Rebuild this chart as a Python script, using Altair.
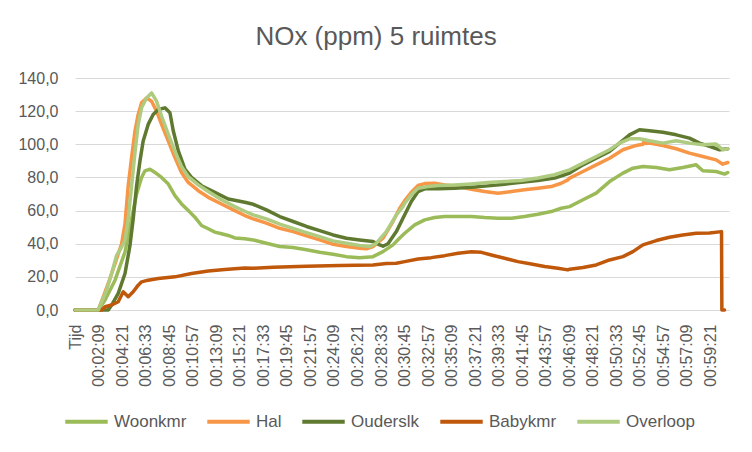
import altair as alt
import pandas as pd

SERIES = ["Woonkmr", "Hal", "Ouderslk", "Babykmr", "Overloop"]
COLORS = ["#9BBB59", "#F79646", "#5F7A30", "#C0580C", "#AECB80"]

# time in seconds since start, values in ppm
WOONKMR_T = [-3, 127, 165, 221, 277, 314, 342, 370, 389, 417, 445, 482, 520, 557, 594, 632, 669, 706, 744, 781, 818, 856, 893, 949,
             996, 1070, 1145, 1220, 1295, 1369, 1444, 1519, 1593, 1668, 1724, 1780, 1818,
             1846, 1902, 1958, 2014, 2070, 2145, 2220, 2294, 2369, 2444, 2518, 2593, 2668, 2724,
             2771, 2846, 2920, 2995, 3070, 3126, 3182, 3257, 3331, 3406, 3481, 3518, 3593, 3640, 3658]
WOONKMR_V = [0, 0, 6, 18, 35, 55, 70, 80, 84, 85, 83, 80, 76, 69, 64, 60, 56, 51, 49, 47, 46, 45, 43.5, 43,
             42.3, 40.3, 38.3, 37.7, 36.3, 34.8, 33.6, 32.2, 31.6, 32.2, 35.2, 39.3, 43.5,
             46.3, 51.4, 54.4, 55.8, 56.4, 56.4, 56.4, 55.8, 55.4, 55.4, 56.4, 57.8, 59.4, 61.4,
             62.4, 66.5, 70.5, 77.5, 82.6, 85.6, 86.6, 86, 84.6, 86, 87.6, 84, 83.6, 82, 83]

HAL_T = [-3, 127, 155, 183, 221, 258, 277, 295, 314, 333, 351, 370, 398, 426, 454, 482, 520, 557, 594, 632, 688, 744, 818, 893, 949,
         996, 1070, 1145, 1220, 1295, 1369, 1444, 1519, 1593, 1631, 1668, 1724, 1780, 1818,
         1846, 1883, 1921, 1958, 2014, 2070, 2145, 2220, 2294, 2369, 2444, 2518, 2593, 2668, 2724, 2761,
         2771, 2846, 2920, 2995, 3070, 3145, 3182, 3191, 3200, 3219, 3294, 3369, 3443, 3518, 3593, 3630, 3658]
HAL_V = [0, 0, 8, 16, 28, 40, 52, 75, 92, 108, 118, 125, 128, 126, 120, 112, 102, 92, 83, 77, 72, 68, 64, 60, 57,
         55, 52.4, 49.3, 47.3, 44.7, 42.3, 39.7, 38.3, 37.3, 36.9, 38.3, 43.3, 53.4, 61.4,
         66, 71, 75.1, 76.3, 76.5, 75.5, 74.5, 72.9, 71.5, 70.5, 71.5, 72.5, 73.5, 74.5, 76.5, 78.5,
         79.6, 83.6, 87.6, 91.6, 96.7, 99.3, 100, 102.7, 100.5, 100.7, 99.3, 97.3, 94.7, 92.6, 90.6, 88, 89]

OUDERSLK_T = [-3, 183, 202, 239, 277, 305, 323, 342, 361, 379, 407, 435, 464, 501, 529, 548, 576, 613, 650, 706, 781, 856, 949,
              996, 1070, 1145, 1220, 1295, 1369, 1444, 1519, 1593, 1668, 1706, 1724, 1752, 1799, 1836,
              1883, 1921, 1958, 2033, 2126, 2220, 2313, 2406, 2500, 2593, 2687, 2743,
              2771, 2846, 2920, 2995, 3051, 3107, 3163, 3219, 3294, 3369, 3443, 3500, 3556, 3612, 3658]
OUDERSLK_V = [0, 0, 3, 10, 22, 39, 55, 75, 90, 102, 112, 118, 121, 122, 119, 108, 96, 85, 80, 75, 71, 67, 65,
              63.8, 60.4, 56.4, 53.4, 50.4, 47.9, 45.3, 43.3, 42.3, 41.3, 39.3, 38.5, 40, 47.3, 55.4,
              65.5, 71.5, 73.1, 73.1, 73.5, 74.1, 74.9, 75.9, 77.1, 78.1, 79.6, 81.6,
              82.6, 87.6, 91.6, 95.7, 100.7, 105.7, 108.8, 108.2, 107.3, 105.7, 103.7, 100.7, 98.7, 96.7, 97.3]

BABYKMR_T = [-3, 146, 165, 202, 239, 267, 295, 323, 351, 370, 407, 464, 557, 650, 744, 837, 949,
             996, 1108, 1295, 1481, 1668, 1743, 1799,
             1846, 1921, 1995, 2070, 2145, 2220, 2276, 2332, 2406, 2481, 2556, 2631, 2705, 2761,
             2771, 2846, 2920, 2995, 3070, 3126, 3182, 3257, 3331, 3406, 3481, 3556, 3623, 3625, 3640]
BABYKMR_V = [0, 0, 2, 3, 5, 11, 8, 11, 15, 17, 18, 19, 20, 22, 23.5, 24.5, 25.3,
             25.2, 25.8, 26.4, 26.8, 27.2, 28, 28.2,
             29.2, 30.8, 31.6, 32.8, 34.2, 35.2, 34.8, 33.2, 31.2, 29.2, 27.8, 26.2, 25.2, 24.2,
             24.6, 25.6, 27.2, 30.2, 32.2, 35.2, 39.3, 41.9, 43.9, 45.3, 46.3, 46.5, 47.3, 0, 0]

OVERLOOP_T = [-3, 127, 146, 174, 202, 230, 258, 277, 295, 314, 333, 351, 370, 398, 426, 454, 482, 520, 557, 594, 632, 688, 744, 818, 893, 949,
              996, 1070, 1145, 1220, 1295, 1369, 1444, 1519, 1593, 1650, 1687, 1743, 1799, 1836,
              1846, 1883, 1921, 1977, 2033, 2126, 2220, 2313, 2406, 2500, 2593, 2687, 2743,
              2771, 2846, 2920, 2995, 3051, 3107, 3163, 3219, 3294, 3369, 3443, 3518, 3593, 3630, 3658]
OVERLOOP_V = [0, 0, 5, 12, 22, 33, 38, 42, 55, 75, 95, 112, 122, 128, 131, 126, 117, 106, 95.7, 86.6, 80.5, 75.5, 71.5, 66.5, 62.4, 59.6,
              57.4, 55, 51.8, 49.3, 46.7, 44.3, 41.7, 40.3, 38.9, 38.3, 40.3, 47.3, 57.4, 62.4,
              64.4, 69.5, 73.5, 74.5, 75.1, 75.5, 76.1, 76.9, 77.5, 78.1, 79.6, 81.6, 83.6,
              84.6, 88.6, 92.6, 96.7, 100.7, 103.3, 103.3, 102.1, 100.7, 102.1, 100.7, 99.7, 100.1, 96.7, 97.3]

TICK_LABELS = ["Tijd", "00:02:09", "00:04:21", "00:06:33", "00:08:45", "00:10:57", "00:13:09",
               "00:15:21", "00:17:33", "00:19:45", "00:21:57", "00:24:09", "00:26:21", "00:28:33",
               "00:30:45", "00:32:57", "00:35:09", "00:37:21", "00:39:33", "00:41:45", "00:43:57",
               "00:46:09", "00:48:21", "00:50:33", "00:52:45", "00:54:57", "00:57:09", "00:59:21"]
Y_TICKS = [0, 20, 40, 60, 80, 100, 120, 140]


def to_sec(s):
    h, m, sec = (int(p) for p in s.split(":"))
    return h * 3600 + m * 60 + sec


tick_values = [to_sec(s) for s in TICK_LABELS[1:]]
tick_values = [tick_values[0] - (tick_values[1] - tick_values[0])] + tick_values

rows = []
for name, ts, vs in zip(SERIES,
                        [WOONKMR_T, HAL_T, OUDERSLK_T, BABYKMR_T, OVERLOOP_T],
                        [WOONKMR_V, HAL_V, OUDERSLK_V, BABYKMR_V, OVERLOOP_V]):
    for t, v in zip(ts, vs):
        rows.append({"t": t, "v": v, "serie": name})
df = pd.DataFrame(rows)

label_expr = ("[" + ",".join("'" + l + "'" for l in TICK_LABELS) + "][indexof(["
              + ",".join(str(v) for v in tick_values) + "], datum.value)]")

FONT = "Liberation Sans"
GREY = "#595959"

base = alt.Chart(df).mark_line(strokeWidth=3.5, strokeJoin="round", strokeCap="round").encode(
    x=alt.X("t:Q",
            scale=alt.Scale(domain=[-3.5, 3665], nice=False, zero=False),
            axis=alt.Axis(values=tick_values, labelExpr=label_expr, labelAngle=270,
                          labelAlign="right", labelBaseline="middle", labelPadding=14,
                          ticks=False, tickSize=0, grid=False, domainColor="#D9D9D9",
                          domainWidth=1, labelFontSize=16, labelColor=GREY, labelFont=FONT,
                          title=None, labelOverlap=False, labelBound=False, labelFlush=False)),
    y=alt.Y("v:Q",
            scale=alt.Scale(domain=[0, 140], nice=False),
            axis=alt.Axis(values=Y_TICKS, labelExpr="replace(format(datum.value, '.1f'), '.', ',')",
                          domain=False, ticks=False, tickSize=0, grid=True, gridColor="#D9D9D9",
                          gridWidth=1, labelPadding=17, labelFontSize=16, labelColor=GREY,
                          labelFont=FONT, title=None)),
    color=alt.Color("serie:N",
                    scale=alt.Scale(domain=SERIES, range=COLORS),
                    legend=alt.Legend(orient="none", legendX=-12, legendY=320,
                                      direction="horizontal", title=None, symbolType="stroke",
                                      symbolSize=1800, symbolStrokeWidth=4, labelFontSize=17,
                                      labelColor=GREY, labelFont=FONT, columnPadding=12,
                                      labelOffset=4, padding=0)),
)

layers = [base.transform_filter(alt.datum.serie == s) for s in SERIES]

chart = alt.layer(*layers).properties(
    width=654,
    height=232,
    title=alt.TitleParams("NOx (ppm) 5 ruimtes", fontSize=26, font=FONT, fontWeight="normal",
                          color=GREY, anchor="middle", dx=-26, offset=-1, baseline="alphabetic"),
    padding={"left": 67, "top": 70, "right": 15, "bottom": 120},
    autosize=alt.AutoSizeParams(type="none"),
).configure_view(stroke=None)

chart.save("out.html", embed_options={"renderer": "svg", "actions": False})
